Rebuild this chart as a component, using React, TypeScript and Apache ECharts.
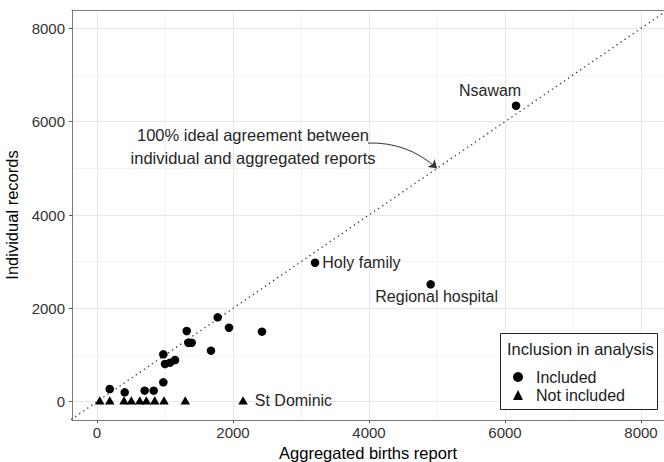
import React, { useEffect, useRef } from "react";
import * as echarts from "echarts";

// ---- Data ----
const xTickValues = [0, 2000, 4000, 6000, 8000];
const yTickValues = [0, 2000, 4000, 6000, 8000];
const majorGrid = [0, 2000, 4000, 6000, 8000];
const minorGrid = [1000, 3000, 5000, 7000];

// Included facilities: [aggregated births report, individual records]
const includedPoints: [number, number][] = [
  [187, 272],
  [407, 200],
  [701, 236],
  [833, 236],
  [975, 415],
  [975, 1015],
  [1000, 808],
  [1074, 836],
  [1147, 893],
  [1319, 1515],
  [1343, 1264],
  [1392, 1264],
  [1676, 1093],
  [1775, 1808],
  [1941, 1585],
  [2426, 1500],
  [3206, 2978],
  [4907, 2515],
  [6162, 6341],
];
const includedNames = [
  "", "", "", "", "", "", "", "", "", "", "", "", "", "", "", "",
  "Holy family",
  "Regional hospital",
  "Nsawam",
];

// Not included facilities
const notIncludedPoints: [number, number][] = [
  [40, 0],
  [187, 0],
  [397, 0],
  [504, 0],
  [628, 0],
  [725, 0],
  [849, 0],
  [985, 0],
  [1298, 0],
  [2147, 0],
];
const notIncludedNames = ["", "", "", "", "", "", "", "", "", "St Dominic"];

const seriesNames = ["Included", "Not included"];
const legendTitle = "Inclusion in analysis";
const xAxisTitle = "Aggregated births report";
const yAxisTitle = "Individual records";

// Reference line y = x, annotation and its arrow
const idealLine: [number, number][] = [
  [-500, -500],
  [8500, 8500],
];
const annotationText = ["100% ideal agreement between", "individual and aggregated reports"];
const annotationAnchor: [number, number] = [2294, 5478];
const annotationArrow: [number, number][] = [
  [3985, 5542],
  [5000, 5000],
];

// Axis extents
const X_MIN = -368;
const X_MAX = 8338;
const Y_MIN = -392;
const Y_MAX = 8392;

const FONT = "'Liberation Sans', Arial, Helvetica, sans-serif";
const TEXT_DARK = "#262626";

const labelPlacement: Record<string, any> = {
  Nsawam: { position: "top", distance: 3, offset: [-26, 0] },
  "Holy family": { position: "right", distance: 3 },
  "Regional hospital": { position: "bottom", distance: 0, offset: [6, 0] },
  "St Dominic": { position: "right", distance: 7 },
};

function makeData(points: [number, number][], names: string[]) {
  return points.map((p, i) => {
    const name = names[i];
    if (!name) return { value: p };
    const pl = labelPlacement[name] || { position: "right" };
    return {
      value: p,
      name,
      label: {
        show: true,
        formatter: name,
        position: pl.position,
        distance: pl.distance,
        offset: pl.offset || [0, 0],
        color: TEXT_DARK,
        fontSize: 16,
        fontFamily: FONT,
      },
    };
  });
}

const plain = (v: number) => String(Math.round(v));

export default function App() {
  const ref = useRef<HTMLDivElement>(null);

  useEffect(() => {
    if (!ref.current) return;
    const chart = echarts.init(ref.current, undefined, { renderer: "svg" });

    const gl = (color: string) => ({ color, width: 1, type: "solid" as const });
    const gridLines = [
      ...minorGrid.map((v) => ({ xAxis: v, lineStyle: gl("#f3f3f3") })),
      ...minorGrid.map((v) => ({ yAxis: v, lineStyle: gl("#f3f3f3") })),
      ...majorGrid.map((v) => ({ xAxis: v, lineStyle: gl("#e8e8e8") })),
      ...majorGrid.map((v) => ({ yAxis: v, lineStyle: gl("#e8e8e8") })),
    ];

    const option: any = {
      animation: false,
      backgroundColor: "#ffffff",
      textStyle: { fontFamily: FONT },
      grid: {
        left: 72,
        right: 0,
        top: 10,
        bottom: 42,
        containLabel: false,
        outerBoundsMode: "none",
      },
      xAxis: [
        {
          type: "value",
          min: X_MIN,
          max: X_MAX,
          name: xAxisTitle,
          nameLocation: "middle",
          nameGap: 18,
          nameTextStyle: { fontSize: 16.5, color: "#000000", fontFamily: FONT },
          axisLine: { show: true, onZero: false, lineStyle: { color: "#7a7a7a", width: 1 } },
          axisTick: { show: true, length: 3, lineStyle: { color: "#555555" }, customValues: xTickValues },
          axisLabel: {
            show: true,
            customValues: xTickValues,
            formatter: plain,
            fontSize: 15,
            color: "#333333",
            margin: 5,
            fontFamily: FONT,
          },
          splitLine: { show: false },
        },
        {
          type: "value",
          position: "top",
          min: X_MIN,
          max: X_MAX,
          axisLine: { show: true, onZero: false, lineStyle: { color: "#7a7a7a", width: 1 } },
          axisTick: { show: false },
          axisLabel: { show: false },
          splitLine: { show: false },
        },
      ],
      yAxis: {
        type: "value",
        min: Y_MIN,
        max: Y_MAX,
        name: yAxisTitle,
        nameLocation: "middle",
        nameGap: 40,
        nameTextStyle: { fontSize: 16.5, color: "#000000", fontFamily: FONT },
        axisLine: { show: true, onZero: false, lineStyle: { color: "#7a7a7a", width: 1 } },
        axisTick: { show: true, length: 3, lineStyle: { color: "#555555" }, customValues: yTickValues },
        axisLabel: {
          show: true,
          customValues: yTickValues,
          formatter: plain,
          fontSize: 15,
          color: "#333333",
          margin: 7,
          fontFamily: FONT,
        },
        splitLine: { show: false },
      },
      legend: {
        data: seriesNames,
        orient: "vertical",
        left: 508,
        top: 364,
        itemWidth: 10,
        itemHeight: 10,
        itemGap: 2,
        z: 10,
        itemStyle: { opacity: 1 },
        textStyle: { fontSize: 16, color: "#1a1a1a", fontFamily: FONT, padding: [0, 0, 0, 8] },
        selectedMode: false,
      },
      graphic: [
        {
          type: "rect",
          z: 5,
          left: 500,
          top: 333,
          shape: { width: 157, height: 76 },
          style: { fill: "#ffffff", stroke: "#222222", lineWidth: 1 },
        },
        {
          type: "text",
          z: 6,
          left: 507,
          top: 340,
          style: { text: legendTitle, fontSize: 16.5, fill: "#1a1a1a", fontFamily: FONT },
        },
      ],
      series: [
        {
          name: "gridlines",
          type: "line",
          data: [],
          z: 0,
          silent: true,
          markLine: {
            z: 0,
            silent: true,
            symbol: ["none", "none"],
            label: { show: false },
            animation: false,
            data: gridLines,
          },
        },
        {
          name: "ideal",
          type: "line",
          data: idealLine,
          z: 1,
          silent: true,
          symbol: "none",
          lineStyle: { color: "#333333", width: 1.3, type: [1.3, 3.6] },
        },
        {
          name: "arrow",
          type: "lines",
          coordinateSystem: "cartesian2d",
          z: 1,
          silent: true,
          symbol: ["none", "arrow"],
          symbolSize: [7, 8],
          lineStyle: { color: "#333333", width: 1, curveness: 0.2, opacity: 1 },
          data: [{ coords: annotationArrow }],
        },
        {
          name: "annotation",
          type: "scatter",
          z: 2,
          silent: true,
          symbolSize: 0.1,
          itemStyle: { color: "rgba(0,0,0,0)", opacity: 1 },
          data: [annotationAnchor],
          label: {
            show: true,
            position: "inside",
            formatter: annotationText.join("\n"),
            fontSize: 16.5,
            lineHeight: 23,
            color: TEXT_DARK,
            opacity: 1,
            textBorderWidth: 0,
            align: "center",
            fontFamily: FONT,
          },
        },
        {
          name: seriesNames[0],
          type: "scatter",
          symbol: "circle",
          symbolSize: 8.5,
          z: 3,
          itemStyle: { color: "#000000", opacity: 1 },
          data: makeData(includedPoints, includedNames),
        },
        {
          name: seriesNames[1],
          type: "scatter",
          symbol: "triangle",
          symbolSize: [9.5, 8.3],
          symbolOffset: [0, -1.4],
          z: 3,
          itemStyle: { color: "#000000", opacity: 1 },
          data: makeData(notIncludedPoints, notIncludedNames),
        },
      ],
    };

    chart.setOption(option);
    return () => {
      chart.dispose();
    };
  }, []);

  return (
    <div
      ref={ref}
      style={{ width: 664, height: 462, position: "absolute", left: 0, top: 0 }}
    />
  );
}
